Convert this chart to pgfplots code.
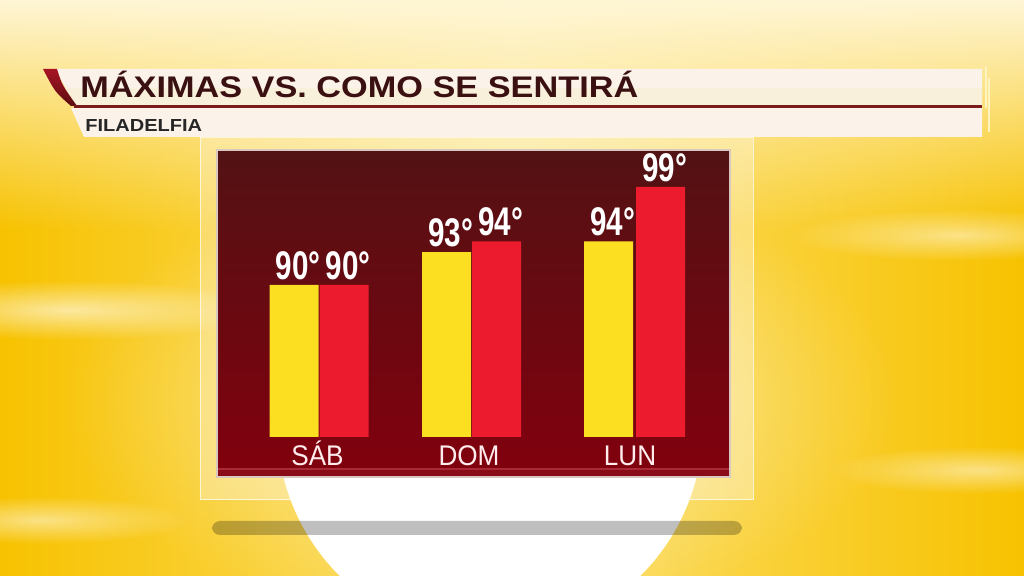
\documentclass[border=0pt]{standalone}
\usepackage{pgfplots}
\pgfplotsset{compat=1.18}
\usetikzlibrary{fadings}
\usepackage{fontspec}
\setmainfont{Liberation Sans}
\newfontfamily\headfont[FakeStretch=1.15]{Liberation Sans Bold}
\newfontfamily\valfont[FakeStretch=0.74]{Liberation Sans Bold}
\newfontfamily\catfont[FakeStretch=0.92]{Liberation Sans}
\definecolor{bgside}{HTML}{F7C200}
\definecolor{bgcenter}{HTML}{FCE070}
\definecolor{bgtop}{HTML}{FFF6D6}
\definecolor{panTop}{HTML}{521213}
\definecolor{panMid}{HTML}{7A1D1E}
\definecolor{panBot}{HTML}{82000E}
\definecolor{panStrip}{HTML}{8A0C18}
\definecolor{panLine}{HTML}{A82A36}
\definecolor{panEdge}{HTML}{D8C8C0}
\definecolor{barY}{HTML}{FDDF22}
\definecolor{barR}{HTML}{EC1C2E}
\definecolor{titleC}{HTML}{3A1010}
\definecolor{bandA}{HTML}{FBF3EA}
\definecolor{bandB}{HTML}{F8EED4}
\definecolor{slashA}{HTML}{A81424}
\definecolor{slashB}{HTML}{5A0E10}
\definecolor{ruleC}{HTML}{7A1A1A}
\definecolor{thinC}{HTML}{FFF4C0}
\tikzfading[name=topfade, top color=transparent!0, bottom color=transparent!100]
\tikzfading[name=softell, inner color=transparent!0, outer color=transparent!100]
\begin{document}
\begin{tikzpicture}
\begin{scope}[x=0.5pt,y=-0.5pt]
\useasboundingbox (0,0) rectangle (1024,576);
% background
\shade[left color=bgside, right color=bgside, middle color=bgcenter] (0,0) rectangle (1024,576);
\fill[bgtop, path fading=topfade] (0,0) rectangle (1024,230);
\fill[white, opacity=0.6, path fading=softell] (70,310) ellipse (200 and 30);
\fill[white, opacity=0.5, path fading=softell] (960,235) ellipse (170 and 26);
\fill[white, opacity=0.5, path fading=softell] (980,470) ellipse (150 and 24);
\fill[white, opacity=0.5, path fading=softell] (40,520) ellipse (150 and 24);
\fill[white, opacity=0.5, path fading=softell] (480,400) ellipse (420 and 220);
% sun disc
\fill[white] (490,425) circle (213);
% frame
\fill[white, opacity=0.3] (200,138) rectangle (753,500);
\draw[white, opacity=0.7, line width=0.5pt] (200,138) rectangle (753,500);
% shadow
\fill[black, opacity=0.25, rounded corners=4] (212,521) rectangle (742,535);
% panel
\shade[top color=panTop, middle color=panMid, bottom color=panBot] (217,150) rectangle (730,477);
\fill[panStrip] (217,469) rectangle (730,477);
\draw[panLine, line width=0.6pt] (217,469) -- (730,469);
\draw[panEdge, line width=0.6pt] (217,150) rectangle (730,477);
% banner
\fill[bandA] (55,69) -- (982,69) -- (982,106) -- (76,106) -- cycle;
\fill[bandB, opacity=0.6] (62,88) -- (982,88) -- (982,106) -- (76,106) -- cycle;
\fill[bandA] (71,108) -- (982,108) -- (982,137) -- (84,137) -- cycle;
\shade[top color=slashA, bottom color=slashB] (43,69) -- (57,69) .. controls (62,85) .. (77,106) -- (71,106) .. controls (55,92) .. cycle;
\fill[ruleC] (74,105.5) rectangle (982,108);
\draw[thinC, line width=0.6pt] (986,66) -- (986,108);
\draw[thinC, line width=0.6pt] (989,78) -- (989,132);
\node[anchor=base west, inner sep=0pt, text=titleC] at (80,97.3) {\headfont\fontsize{14.9pt}{16pt}\selectfont MÁXIMAS VS. COMO SE SENTIRÁ};
\node[anchor=base west, inner sep=0pt, text=black!85] at (85,131.7) {\headfont\fontsize{8.7pt}{10pt}\selectfont FILADELFIA};
\end{scope}
\begin{axis}[
  at={(108.5pt,-218.5pt)}, anchor=south west,
  scale only axis, width=256.5pt, height=143.5pt,
  xmin=217, xmax=730, ymin=76, ymax=102.4,
  ybar, bar width=49,
  axis line style={draw=none}, tick style={draw=none},
  ytick=\empty,
  xtick={317.5,469,630}, xticklabels={SÁB,DOM,LUN},
  xticklabel style={anchor=base, yshift=-10pt, text=white!93!red, font=\catfont\fontsize{14.2pt}{15pt}\selectfont},
  nodes near coords={\valfont\fontsize{20pt}{20pt}\selectfont\pgfmathprintnumber[assume math mode=true,fixed,precision=0]{\pgfplotspointmeta}°},
  every node near coord/.append style={anchor=south, inner sep=0pt, yshift=2.3pt, xshift=2pt, text=white},
]
\addplot[fill=barY, draw=none, bar shift=0pt] coordinates {(294,90) (446.5,93) (608.7,94)};
\addplot[fill=barR, draw=none, bar shift=0pt] coordinates {(344,90) (496.7,94) (660.5,99)};
\end{axis}
\end{tikzpicture}
\end{document}
